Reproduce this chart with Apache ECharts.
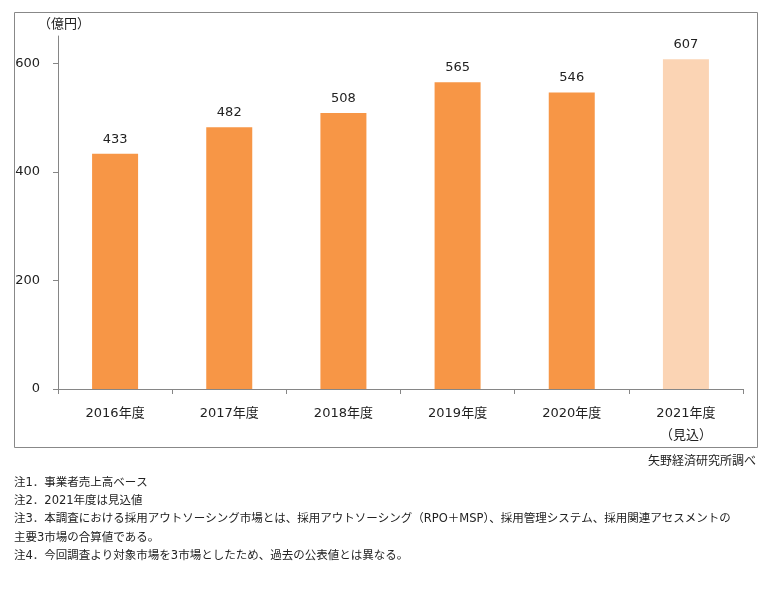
<!DOCTYPE html>
<html>
<head>
<meta charset="utf-8">
<script src="https://cdn.jsdelivr.net/npm/echarts@6/dist/echarts.min.js"></script>
<style>
  html, body { margin: 0; padding: 0; background: #fff; }
  #main { width: 768px; height: 589px; }
</style>
</head>
<body>
<div id="main"></div>
<script>
  // 採用アウトソーシング市場規模（億円）
  var years = ['2016年度', '2017年度', '2018年度', '2019年度', '2020年度', '2021年度\n（見込）'];
  var values = [433, 482, 508, 565, 546, 607];
  var yTicks = [0, 200, 400, 600];
  var notes = [
    '注1．事業者売上高ベース',
    '注2．2021年度は見込値',
    '注3．本調査における採用アウトソーシング市場とは、採用アウトソーシング（RPO＋MSP）、採用管理システム、採用関連アセスメントの',
    '主要3市場の合算値である。',
    '注4．今回調査より対象市場を3市場としたため、過去の公表値とは異なる。'
  ];

  var font = '"DejaVu Sans", "Noto Sans CJK JP", sans-serif';
  var axisColor = '#868686';

  var myChart = echarts.init(document.getElementById('main'));

  // 最後の年度（見込）は薄い色
  var barData = values.map(function (v, i) {
    return {
      value: v,
      itemStyle: { color: i === values.length - 1 ? '#FBD4B4' : '#F79646' }
    };
  });

  var noteTexts = notes.map(function (t, i) {
    return {
      type: 'text',
      left: 14,
      top: 477 + i * 18.3,
      style: { text: t, font: '11.5px ' + font, fill: '#222' }
    };
  });

  var option = {
    animation: false,
    grid: { left: 58, right: 25, top: 36, bottom: 200 },
    xAxis: {
      type: 'category',
      data: years,
      axisLine: { lineStyle: { color: axisColor } },
      axisTick: { show: true, length: 5, lineStyle: { color: axisColor } },
      axisLabel: { color: '#222', fontSize: 13, fontFamily: font, margin: 14, lineHeight: 22 }
    },
    yAxis: {
      type: 'value',
      min: 0,
      max: 650,
      interval: 50,
      splitLine: { show: false },
      axisLine: { show: true, lineStyle: { color: axisColor } },
      axisTick: { show: true, length: 5, customValues: yTicks, lineStyle: { color: axisColor } },
      axisLabel: { color: '#222', fontSize: 13, fontFamily: font, margin: 18, customValues: yTicks }
    },
    series: [{
      type: 'bar',
      data: barData,
      barWidth: 46,
      label: {
        show: true,
        position: 'top',
        distance: 8,
        color: '#222',
        fontSize: 13,
        fontFamily: font
      }
    }],
    graphic: [
      {
        type: 'rect',
        shape: { x: 14.5, y: 12.5, width: 743, height: 435 },
        style: { fill: 'none', stroke: '#888', lineWidth: 1 },
        silent: true
      },
      {
        type: 'text',
        left: 38,
        top: 18,
        style: { text: '（億円）', font: '13px ' + font, fill: '#222' }
      },
      {
        type: 'text',
        right: 12,
        top: 456,
        style: { text: '矢野経済研究所調べ', font: '12px ' + font, fill: '#222' }
      }
    ].concat(noteTexts)
  };

  myChart.setOption(option);
</script>
</body>
</html>
